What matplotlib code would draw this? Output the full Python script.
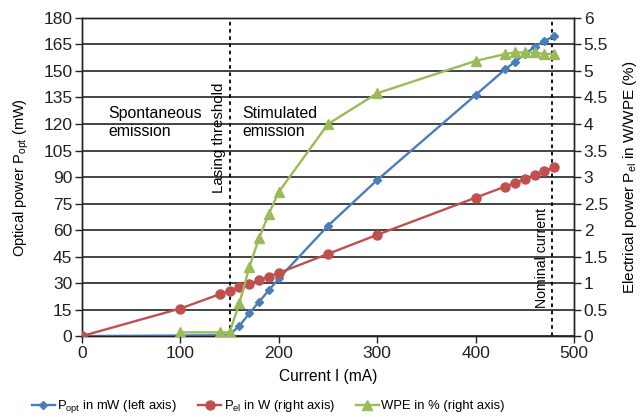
import matplotlib
matplotlib.use("Agg")
import matplotlib.pyplot as plt

plt.rcParams['font.family'] = ['Liberation Sans', 'DejaVu Sans']

current = [0, 100, 140, 150, 160, 170, 180, 190, 200, 250, 300, 400, 430, 440, 450, 460, 470, 480]
p_opt = [0, 0.3, 0.5, 0.8, 5.8, 12.8, 19.4, 26.0, 32.6, 62.4, 88.3, 136.4, 150.9, 155.2, 159.5, 163.7, 167.0, 169.8]
p_el = [0, 0.52, 0.79, 0.855, 0.92, 0.975, 1.06, 1.12, 1.19, 1.55, 1.91, 2.61, 2.82, 2.89, 2.96, 3.04, 3.11, 3.18]
wpe_current = [100, 140, 150, 160, 170, 180, 190, 200, 250, 300, 400, 430, 440, 450, 460, 470, 480]
wpe = [0.07, 0.07, 0.07, 0.62, 1.30, 1.85, 2.31, 2.72, 4.00, 4.58, 5.19, 5.32, 5.35, 5.35, 5.35, 5.32, 5.32]

left_ticks = list(range(0, 181, 15))
right_ticks = [0, 0.5, 1, 1.5, 2, 2.5, 3, 3.5, 4, 4.5, 5, 5.5, 6]
right_labels = ['0', '0.5', '1', '1.5', '2', '2.5', '3', '3.5', '4', '4.5', '5', '5.5', '6']
x_ticks = [0, 100, 200, 300, 400, 500]

blue = '#4A7EBB'
red = '#C0504D'
green = '#9BBB59'

fig = plt.figure(figsize=(6.42, 4.18), dpi=100)
ax = fig.add_axes([0.1277, 0.196, 0.7664, 0.761])
ax2 = ax.twinx()

fs = 12.5
ax.set_xlim(0, 500)
ax.set_ylim(0, 180)
ax2.set_ylim(0, 6)
ax.set_yticks(left_ticks)
ax.set_xticks(x_ticks)
ax2.set_yticks(right_ticks)
ax2.set_yticklabels(right_labels)
for a in (ax, ax2):
    a.tick_params(labelsize=fs, direction='out', length=5, width=1, colors='#222222', pad=2)
    for s in a.spines.values():
        s.set_color('#222222')
        s.set_linewidth(1)
ax.yaxis.grid(True, color='#111111', linewidth=1.1)
ax.set_axisbelow(True)

ax.axvline(150, color='black', linestyle=(0, (2, 2)), linewidth=1.3)
ax.axvline(478, color='black', linestyle=(0, (2, 2)), linewidth=1.3)

l1, = ax.plot(current, p_opt, color=blue, marker='D', markersize=4.5, linewidth=1.7, zorder=4)
l2, = ax2.plot(current, p_el, color=red, marker='o', markersize=6.5, linewidth=1.7, zorder=3)
l3, = ax2.plot(wpe_current, wpe, color=green, marker='^', markersize=6.5, linewidth=1.7, zorder=3)

ax.set_xlabel('Current I (mA)', fontsize=11.2, labelpad=6)
ax.set_ylabel('Optical power P$_\\mathregular{opt}$ (mW)', fontsize=10.5, labelpad=9)
ax2.set_ylabel('Electrical power P$_\\mathregular{el}$ in W/WPE (%)', fontsize=11, labelpad=9)

ax.text(27, 130, 'Spontaneous\nemission', fontsize=11.4, va='top', ha='left', linespacing=1.2)
ax.text(163, 130, 'Stimulated\nemission', fontsize=11.4, va='top', ha='left', linespacing=1.2)
ax.text(139, 81, 'Lasing threshold', fontsize=10.8, rotation=90, va='bottom', ha='center')
ax.text(467, 16, 'Nominal current', fontsize=10.2, rotation=90, va='bottom', ha='center')

fig.legend([l1, l2, l3],
           ['P$_\\mathregular{opt}$ in mW (left axis)', 'P$_\\mathregular{el}$ in W (right axis)', 'WPE in % (right axis)'],
           loc='lower center', bbox_to_anchor=(0.418, -0.022), ncol=3, frameon=False,
           prop={'size': 9.4},
           handlelength=1.75, columnspacing=1.6, handletextpad=0.2)

fig.savefig('out.png', dpi=100)
